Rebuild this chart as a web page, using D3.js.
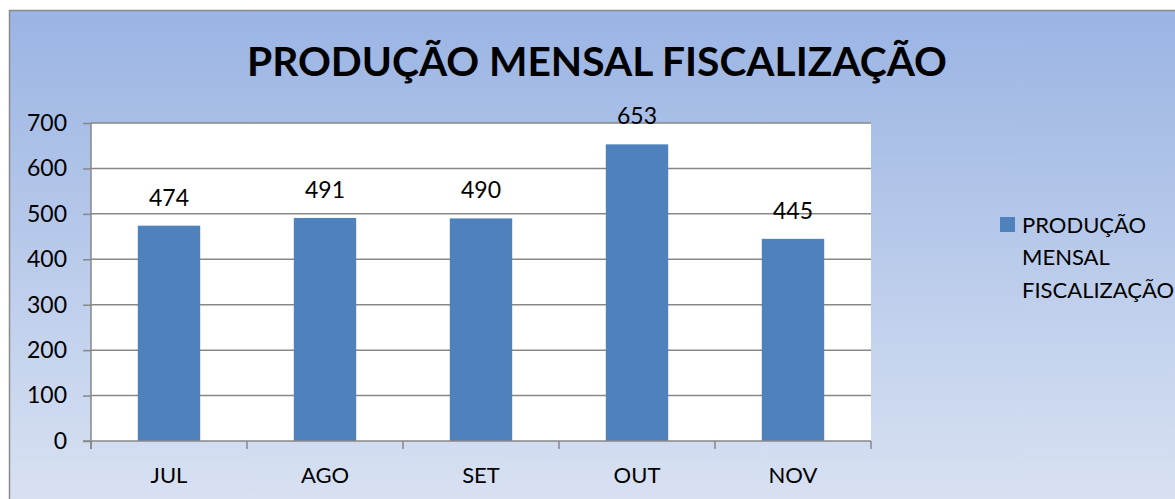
<!DOCTYPE html>
<html lang="pt">
<head>
<meta charset="UTF-8">
<title>Produção Mensal Fiscalização</title>
<style>
  body { margin: 0; padding: 0; background: #fff; overflow: hidden; }
  svg { display: block; font-family: Lato, "Open Sans", Arial, sans-serif; }
</style>
</head>
<body>
<svg id="chart" width="1175" height="499"></svg>
<script src="https://d3js.org/d3.v7.min.js"></script>
<script>
// data
var months = ["JUL", "AGO", "SET", "OUT", "NOV"];
var values = [474, 491, 490, 653, 445];
var yTicks = [0, 100, 200, 300, 400, 500, 600, 700];
var title = "PRODUÇÃO MENSAL FISCALIZAÇÃO";
var legendLines = ["PRODUÇÃO", "MENSAL", "FISCALIZAÇÃO"];

var svg = d3.select("#chart");

// background gradient of the chart frame
var defs = svg.append("defs");
var grad = defs.append("linearGradient")
    .attr("id", "bg").attr("x1", 0).attr("y1", 0).attr("x2", 0).attr("y2", 1);
grad.append("stop").attr("offset", "0%").attr("stop-color", "#9ab4e3");
grad.append("stop").attr("offset", "100%").attr("stop-color", "#dce4f3");

svg.append("rect")
    .attr("x", 9.5).attr("y", 10.5)
    .attr("width", 1200).attr("height", 520)
    .attr("fill", "url(#bg)")
    .attr("stroke", "#8a8a8a").attr("stroke-width", 1.5);

// title
svg.append("text")
    .attr("x", 597).attr("y", 76)
    .attr("text-anchor", "middle")
    .attr("font-size", 40).attr("font-weight", "bold")
    .attr("textLength", 700).attr("lengthAdjust", "spacingAndGlyphs")
    .attr("fill", "#000")
    .text(title);

var plot = { left: 91, right: 871, top: 123, bottom: 441 };

var x = d3.scaleBand()
    .domain(months)
    .range([plot.left, plot.right])
    .paddingInner(0.6)
    .paddingOuter(0.3);

var y = d3.scaleLinear()
    .domain([0, 700])
    .range([plot.bottom, plot.top]);

// plot area
svg.append("rect")
    .attr("x", plot.left).attr("y", plot.top)
    .attr("width", plot.right - plot.left).attr("height", plot.bottom - plot.top)
    .attr("fill", "#fff");

// gridlines
svg.append("g")
    .selectAll("line")
    .data(yTicks.filter(function (d) { return d > 0; }))
    .enter().append("line")
    .attr("x1", plot.left).attr("x2", plot.right)
    .attr("y1", function (d) { return y(d); })
    .attr("y2", function (d) { return y(d); })
    .attr("stroke", "#878787").attr("stroke-width", 1.5);

// bars
svg.append("g")
    .selectAll("rect")
    .data(values)
    .enter().append("rect")
    .attr("x", function (d, i) { return x(months[i]); })
    .attr("y", function (d) { return y(d); })
    .attr("width", x.bandwidth())
    .attr("height", function (d) { return y(0) - y(d); })
    .attr("fill", "#4f81bd");

// value labels
svg.append("g")
    .selectAll("text")
    .data(values)
    .enter().append("text")
    .attr("x", function (d, i) { return x(months[i]) + x.bandwidth() / 2; })
    .attr("y", function (d) { return y(d) - 20; })
    .attr("text-anchor", "middle")
    .attr("font-size", 23)
    .attr("fill", "#000")
    .text(function (d) { return d; });

// y axis
var yAxis = svg.append("g")
    .attr("transform", "translate(" + plot.left + ",0)")
    .call(d3.axisLeft(y).tickValues(yTicks).tickSize(8).tickPadding(16));
yAxis.selectAll("line").attr("stroke", "#878787").attr("stroke-width", 1.5);
yAxis.select(".domain").attr("stroke", "#878787").attr("stroke-width", 1.5)
    .attr("d", "M0," + plot.top + "V" + (plot.bottom + 8));
yAxis.selectAll("text").attr("font-size", 23).attr("fill", "#000")
    .attr("font-family", "Lato, 'Open Sans', Arial, sans-serif");

// x axis with ticks between categories
var xAxis = svg.append("g")
    .attr("transform", "translate(0," + plot.bottom + ")");
xAxis.append("line")
    .attr("x1", plot.left - 8).attr("x2", plot.right)
    .attr("stroke", "#878787").attr("stroke-width", 1.5);
var step = x.step();
xAxis.selectAll(".tk")
    .data(d3.range(months.length + 1))
    .enter().append("line")
    .attr("class", "tk")
    .attr("x1", function (i) { return plot.left + i * step; })
    .attr("x2", function (i) { return plot.left + i * step; })
    .attr("y1", 0).attr("y2", 8)
    .attr("stroke", "#878787").attr("stroke-width", 1.5);
xAxis.selectAll(".lbl")
    .data(months)
    .enter().append("text")
    .attr("class", "lbl")
    .attr("x", function (d) { return x(d) + x.bandwidth() / 2; })
    .attr("y", 42)
    .attr("text-anchor", "middle")
    .attr("font-size", 22)
    .attr("fill", "#000")
    .text(function (d) { return d; });

// legend
var legend = svg.append("g").attr("transform", "translate(1000,217)");
legend.append("rect")
    .attr("width", 15).attr("height", 15)
    .attr("fill", "#4f81bd");
legend.selectAll("text")
    .data(legendLines)
    .enter().append("text")
    .attr("x", 22)
    .attr("y", function (d, i) { return 15.5 + i * 32.5; })
    .attr("font-size", 22)
    .attr("fill", "#000")
    .text(function (d) { return d; });
</script>
</body>
</html>
